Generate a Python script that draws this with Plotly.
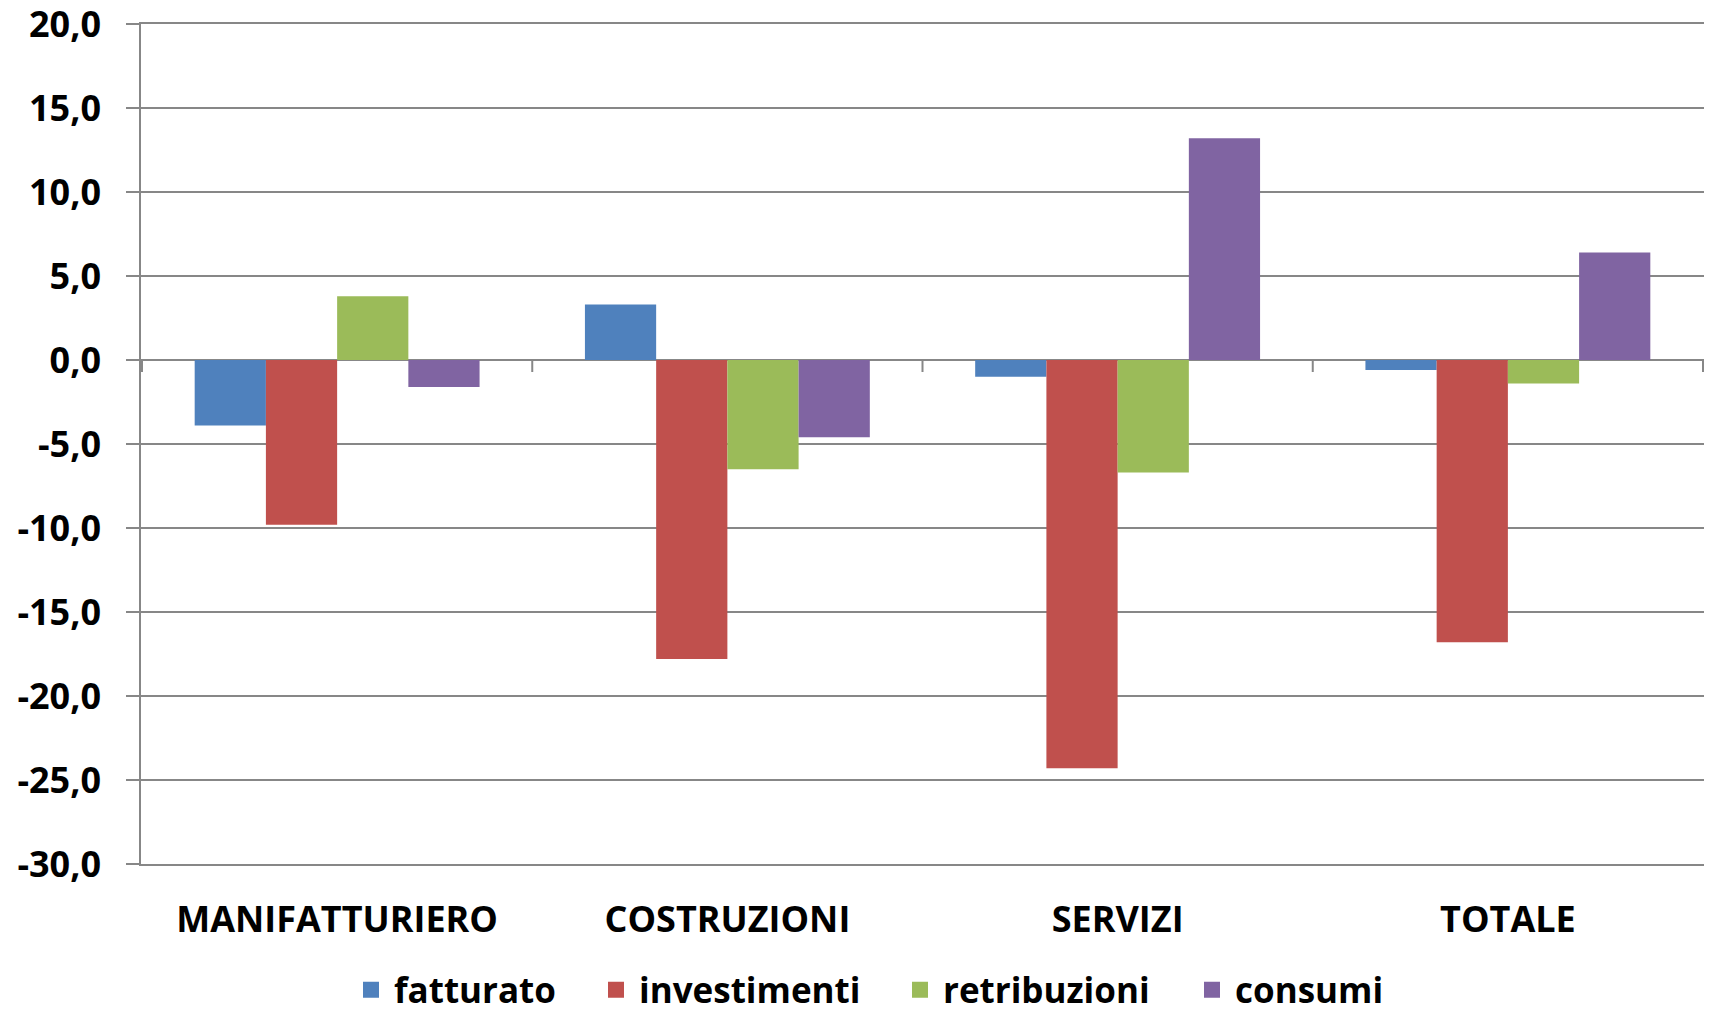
import plotly.graph_objects as go

categories = ["MANIFATTURIERO", "COSTRUZIONI", "SERVIZI", "TOTALE"]
series_names = ["fatturato", "investimenti", "retribuzioni", "consumi"]
fatturato = [-3.9, 3.3, -1.0, -0.6]
investimenti = [-9.8, -17.8, -24.3, -16.8]
retribuzioni = [3.8, -6.5, -6.7, -1.4]
consumi = [-1.6, -4.6, 13.2, 6.4]
colors = ["#4F81BD", "#C0504D", "#9BBB59", "#8064A2"]
y_ticks = [-30, -25, -20, -15, -10, -5, 0, 5, 10, 15, 20]
y_tick_labels = [f"{v:.1f}".replace(".", ",") for v in y_ticks]

GRID = "#878787"
FONT = dict(family="Open Sans", size=36, color="black", weight="bold")
LEG_FONT = dict(family="Open Sans", size=35, color="black", weight="bold")
W, H = 1709, 1010
legend_left_px = [348, 593, 897, 1189]

fig = go.Figure()
series = [fatturato, investimenti, retribuzioni, consumi]
for i, (name, vals, col) in enumerate(zip(series_names, series, colors)):
    lg = "legend" if i == 0 else f"legend{i + 1}"
    fig.add_trace(go.Bar(x=categories, y=vals, name=name, showlegend=False,
                         marker=dict(color=col, line=dict(width=0))))
    fig.add_trace(go.Scatter(x=[None], y=[None], mode="markers", name=name, legend=lg,
                             marker=dict(symbol="square", size=22, color=col)))
    fig.update_layout({lg: dict(xref="container", yref="container", orientation="h",
                                x=legend_left_px[i] / W, xanchor="left",
                                y=20 / H, yanchor="middle",
                                font=LEG_FONT, itemwidth=36, itemsizing="trace",
                                bgcolor="rgba(0,0,0,0)")})

# category boundary tick marks on the zero line
for i in range(len(categories) + 1):
    fig.add_shape(type="line", xref="x", yref="y", x0=i - 0.5, x1=i - 0.5,
                  ysizemode="pixel", yanchor=0, y0=0, y1=-12,
                  line=dict(color=GRID, width=2))

fig.update_layout(
    width=W, height=H,
    margin=dict(l=141, r=5, t=24, b=146, autoexpand=False),
    paper_bgcolor="white", plot_bgcolor="white",
    barmode="group", bargap=0.27, bargroupgap=0,
    font=FONT,
)
fig.update_xaxes(showgrid=False, showline=True, mirror=True, linecolor=GRID, linewidth=2,
                 ticks="", tickfont=FONT, ticklabelstandoff=23, automargin=False)
fig.update_yaxes(range=[-30, 20], tickvals=y_ticks, ticktext=y_tick_labels,
                 showgrid=True, gridcolor=GRID, gridwidth=2,
                 zeroline=True, zerolinecolor=GRID, zerolinewidth=2,
                 showline=True, linecolor=GRID, linewidth=1.5,
                 ticks="outside", ticklen=13, tickcolor=GRID, tickwidth=2,
                 tickfont=FONT, ticklabelstandoff=18, ticklabeloverflow="allow",
                 automargin=False)

fig.write_html("out.html", config={"displayModeBar": False},
               post_script="document.body.style.margin='0';document.body.style.overflow='hidden';")
